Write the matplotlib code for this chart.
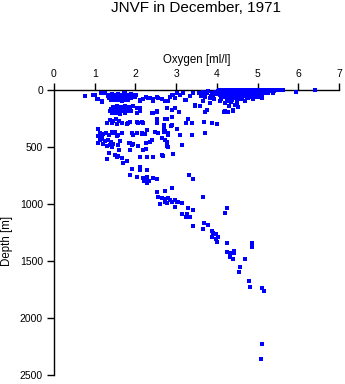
import matplotlib

matplotlib.use("Agg")
import matplotlib.pyplot as plt
import numpy as np

plt.rcParams["font.family"] = ["Liberation Sans", "DejaVu Sans"]

TITLE = "JNVF in December, 1971"
X_LABEL = "Oxygen [ml/l]"
Y_LABEL = "Depth [m]"
x_ticks = [0, 1, 2, 3, 4, 5, 6, 7]
y_ticks = [0, 500, 1000, 1500, 2000, 2500]

# (oxygen ml/l, depth m)
surface_high = [
    (4.05, 0), (4.15, 2), (4.25, 0), (4.35, 3), (4.45, 0), (4.55, 1), (4.62, 4), (4.70, 0),
    (4.78, 2), (4.85, 0), (4.92, 3), (5.00, 0), (5.05, 1), (5.12, 0), (5.20, 2), (5.28, 0),
    (5.36, 3), (5.45, 1), (5.55, 0), (5.62, 2), (5.95, 15), (6.41, 3),
    (4.02, 12), (4.12, 9), (4.22, 13), (4.30, 10), (4.40, 12), (4.50, 8), (4.60, 11), (4.68, 14),
    (4.75, 9), (4.82, 12), (4.90, 10), (4.98, 13), (5.06, 9), (5.15, 11), (5.22, 14), (5.30, 10),
    (5.40, 12),
    (4.05, 22), (4.18, 20), (4.28, 24), (4.38, 19), (4.48, 23), (4.58, 21), (4.66, 25), (4.74, 20),
    (4.80, 23), (4.88, 19), (4.95, 24), (5.02, 21), (5.10, 25), (5.18, 20), (5.26, 23),
    (4.00, 33), (4.10, 30), (4.20, 35), (4.32, 31), (4.42, 34), (4.52, 29), (4.60, 36), (4.70, 32),
    (4.78, 35), (4.86, 30), (4.94, 34), (5.02, 31), (5.10, 36), (5.20, 30),
    (4.08, 46), (4.20, 44), (4.30, 48), (4.40, 43), (4.55, 47), (4.65, 45), (4.72, 49), (4.80, 44),
    (4.90, 48), (5.00, 45), (5.08, 47),
    (4.15, 60), (4.28, 62), (4.40, 58), (4.50, 63), (4.62, 59), (4.75, 61), (4.85, 64), (4.95, 58),
    (5.05, 62),
    (4.10, 76), (4.25, 73), (4.35, 78), (4.45, 74), (4.60, 77), (4.77, 73), (4.90, 75), (5.10, 73),
    (4.08, 93), (4.24, 96), (4.37, 92), (4.49, 97), (4.70, 94),
    (4.20, 112), (4.35, 108), (4.50, 114),
    (4.31, 140), (4.45, 131), (4.53, 146), (4.39, 175), (4.20, 184), (4.40, 184), (4.18, 190),
    (4.28, 196),
    (3.55, 30), (3.62, 50), (3.71, 44), (3.75, 25), (3.85, 55), (3.91, 44), (3.95, 20), (3.67, 94),
    (3.83, 117), (3.77, 175), (3.71, 196), (3.59, 140), (3.46, 140), (5.39, 29),
    (3.65, 15), (3.78, 10), (3.88, 30), (3.70, 60), (3.82, 70), (3.93, 80),
]

surface_low = [
    (0.75, 53), (0.97, 44), (1.00, 47), (1.06, 82), (1.07, 79), (1.16, 29), (1.17, 102), (1.19, 96),
    (1.25, 23), (1.25, 29), (1.73, 23), (1.74, 29),
    (1.35, 40), (1.42, 38), (1.50, 42), (1.58, 37), (1.65, 41), (1.72, 39), (1.80, 43), (1.88, 38),
    (1.95, 42), (2.02, 40),
    (1.33, 55), (1.40, 57), (1.48, 53), (1.55, 58), (1.62, 54), (1.70, 56), (1.78, 59), (1.85, 53),
    (1.92, 57), (2.00, 55),
    (1.36, 70), (1.45, 72), (1.52, 68), (1.60, 73), (1.68, 69), (1.75, 71), (1.83, 74), (1.90, 70),
    (1.40, 90), (1.50, 92), (1.58, 88), (1.66, 93), (1.74, 89), (1.82, 91),
    (1.45, 145), (1.55, 142), (1.65, 147), (1.75, 143), (1.85, 146), (1.95, 144),
    (1.40, 165), (1.50, 163), (1.60, 167), (1.72, 164), (1.82, 166), (2.05, 162),
    (1.38, 185), (1.48, 183), (1.58, 187), (1.68, 184), (1.80, 186), (1.90, 182), (2.11, 188),
    (1.42, 205), (1.52, 203), (1.62, 207), (1.75, 204), (2.03, 204),
    (1.99, 58), (2.11, 88), (2.11, 96), (2.19, 82), (2.26, 58), (2.32, 67), (2.36, 70), (2.44, 82),
    (2.52, 58), (2.56, 67), (2.65, 82), (2.81, 96), (2.44, 94), (2.73, 96), (2.85, 58), (2.89, 44),
    (2.93, 44), (2.97, 73), (3.01, 29), (3.10, 44), (3.16, 23), (3.22, 88), (3.24, 88), (3.34, 53),
    (3.42, 29), (3.46, 131),
    (1.87, 146), (2.11, 160), (2.40, 204), (2.42, 199), (2.52, 184), (2.52, 190), (2.77, 160),
    (2.89, 175), (2.97, 160), (3.06, 190),
]

intermediate = [
    (2.91, 234), (1.38, 263), (1.45, 270), (1.52, 258), (1.60, 275), (1.42, 290), (1.55, 296),
    (1.68, 285), (1.79, 298), (1.29, 292), (1.66, 292), (1.82, 287), (1.87, 281), (2.05, 281),
    (2.06, 287), (2.15, 281), (2.18, 287), (2.52, 257), (2.52, 263), (2.54, 292), (2.73, 257),
    (2.77, 257), (2.87, 313), (2.70, 307), (2.89, 307), (2.52, 292), (3.28, 257), (3.38, 292),
    (3.24, 287), (3.69, 278), (3.87, 292), (4.01, 301), (3.01, 345),
    (1.09, 345), (1.13, 378), (1.20, 385), (1.28, 375), (1.35, 392), (1.45, 380), (1.54, 400),
    (1.09, 403), (1.18, 395), (1.42, 366), (1.50, 372), (1.57, 395), (1.66, 380), (1.91, 374),
    (1.95, 397), (2.03, 374), (2.15, 380), (2.15, 389), (2.24, 389), (2.28, 354), (2.48, 371),
    (2.56, 374), (2.65, 418), (2.69, 345), (2.71, 366), (2.73, 360), (2.80, 380), (2.81, 395),
    (3.10, 395), (3.38, 397), (3.72, 380),
    (1.13, 438), (1.17, 432), (1.25, 445), (1.32, 440), (1.40, 455), (1.46, 470), (1.09, 468),
    (1.20, 475), (1.30, 490), (1.38, 482), (1.42, 500), (1.58, 482), (1.62, 447), (1.85, 468),
    (1.87, 462), (1.91, 482), (1.95, 476), (2.07, 488), (2.26, 462), (2.36, 453), (2.40, 438),
    (2.73, 438), (2.77, 453), (2.78, 491), (2.81, 497), (3.14, 482),
    (1.36, 556), (1.29, 605), (1.50, 570), (1.58, 580), (1.66, 596), (1.55, 590), (1.80, 620),
    (1.70, 643), (1.60, 526), (1.87, 526), (2.11, 585), (2.28, 590), (2.44, 585), (2.19, 526),
    (2.26, 517), (2.65, 570), (2.93, 561), (2.67, 579),
]

deep = [
    (1.91, 696), (2.11, 678), (2.11, 702), (2.28, 702), (1.87, 746), (2.03, 760), (2.19, 775),
    (2.24, 789), (2.28, 760), (2.44, 769), (2.52, 783), (2.28, 818), (2.20, 800), (2.33, 795),
    (3.32, 746), (3.41, 783),
    (2.52, 892), (2.73, 886), (2.89, 857), (2.56, 936), (2.65, 945), (2.72, 958), (2.80, 950),
    (2.85, 965), (2.60, 1000), (2.77, 994), (2.73, 985), (2.89, 985), (2.97, 965), (3.01, 979),
    (3.05, 982), (2.97, 1023), (3.14, 994), (3.28, 1032), (3.41, 1053), (3.65, 941), (3.14, 1088),
    (3.23, 1111), (3.26, 1091), (3.34, 1111), (3.42, 1190), (4.24, 1038), (4.20, 1076),
    (3.69, 1170), (3.79, 1184), (3.67, 1222), (3.87, 1234), (3.91, 1257), (3.98, 1263),
    (3.87, 1292), (4.04, 1292), (3.97, 1310), (4.00, 1331), (4.26, 1345), (4.26, 1418),
    (4.32, 1433), (4.41, 1410), (4.43, 1433), (4.32, 1468), (4.39, 1485), (4.87, 1339),
    (4.87, 1374), (4.68, 1482), (4.58, 1556), (4.55, 1594), (4.80, 1678), (4.82, 1731),
    (5.12, 1740), (5.17, 1766), (5.12, 2231), (5.09, 2362),
]


def main() -> None:
    fig = plt.figure(figsize=(3.45, 3.84), dpi=100)
    ax = fig.add_axes([0.1565, 0.0234, 0.8261, 0.7422])

    for layer in (surface_high, surface_low, intermediate, deep):
        pts = np.array(layer, dtype=float)
        ax.scatter(pts[:, 0], pts[:, 1], s=5, marker="s", color="#0000ff",
                   linewidths=0, clip_on=False, zorder=3)

    ax.set_xlim(0, 7)
    ax.set_ylim(2500, 0)
    ax.set_xticks(x_ticks)
    ax.set_yticks(y_ticks)
    ax.xaxis.tick_top()
    ax.xaxis.set_label_position("top")
    for side in ("right", "bottom"):
        ax.spines[side].set_visible(False)
    for side in ("left", "top"):
        ax.spines[side].set_linewidth(1.0)
    ax.tick_params(direction="out", length=5, width=1, labelsize=7.5, pad=3)
    ax.set_xlabel(X_LABEL, fontsize=8.3, labelpad=4)
    ax.set_ylabel(Y_LABEL, fontsize=8.3)
    ax.yaxis.set_label_coords(-0.145, 0.47)

    fig.text(0.568, 0.979, TITLE, ha="center", va="center", fontsize=11)
    fig.savefig("out.png", dpi=100)
    plt.close(fig)


if __name__ == "__main__":
    main()
